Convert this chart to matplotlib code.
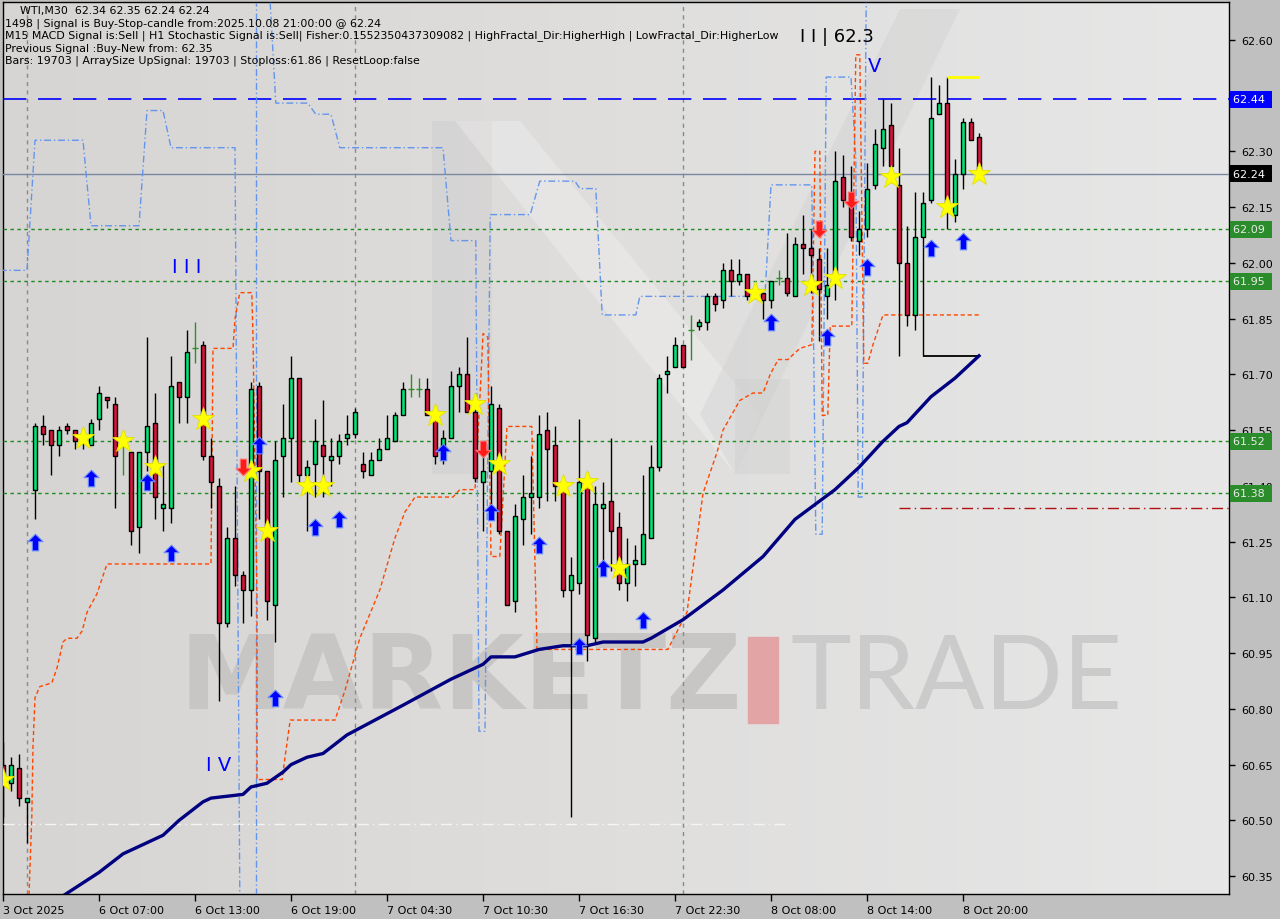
import numpy as np
import matplotlib
matplotlib.use("Agg")
import matplotlib.pyplot as plt
import matplotlib.transforms as mtransforms
from matplotlib.path import Path
from matplotlib.patches import Rectangle, Polygon
from matplotlib.colors import LinearSegmentedColormap

# ---------------- data (WTI, M30) ----------------
opens = [60.65, 60.60, 60.64, 60.55, 61.39, 61.56, 61.55, 61.51, 61.56, 61.55,
         61.52, 61.51, 61.58, 61.64, 61.62, 61.52, 61.49, 61.29, 61.49, 61.57,
         61.34, 61.34, 61.68, 61.64, 61.77, 61.78, 61.48, 61.40, 61.03, 61.26,
         61.16, 61.12, 61.67, 61.44, 61.08, 61.48, 61.53, 61.69, 61.43, 61.46,
         61.51, 61.47, 61.48, 61.53, 61.54, 61.46, 61.43, 61.47, 61.50, 61.52,
         61.59, 61.66, 61.66, 61.66, 61.59, 61.49, 61.53, 61.67, 61.70, 61.60,
         61.41, 61.44, 61.61, 61.28, 61.09, 61.31, 61.37, 61.37, 61.55, 61.51,
         61.40, 61.12, 61.14, 61.41, 60.99, 61.34, 61.36, 61.29, 61.14, 61.19,
         61.19, 61.26, 61.45, 61.70, 61.72, 61.78, 61.82, 61.83, 61.84, 61.91,
         61.90, 61.98, 61.95, 61.97, 61.93, 61.92, 61.90, 61.96, 61.96, 61.91,
         62.05, 62.04, 62.01, 61.91, 61.97, 62.23, 62.18, 62.06, 62.09, 62.21,
         62.31, 62.37, 62.21, 62.00, 61.86, 62.07, 62.17, 62.40, 62.43, 62.13,
         62.24, 62.38, 62.34]
highs = [60.71, 60.67, 60.68, 60.56, 61.57, 61.59, 61.55, 61.56, 61.57, 61.55,
         61.55, 61.58, 61.67, 61.64, 61.64, 61.54, 61.49, 61.49, 61.80, 61.65,
         61.46, 61.75, 61.68, 61.82, 61.84, 61.79, 61.53, 61.42, 61.29, 61.40,
         61.17, 61.68, 61.68, 61.44, 61.52, 61.62, 61.75, 61.69, 61.47, 61.58,
         61.63, 61.53, 61.54, 61.59, 61.61, 61.49, 61.49, 61.53, 61.59, 61.60,
         61.68, 61.70, 61.69, 61.69, 61.61, 61.55, 61.71, 61.72, 61.80, 61.63,
         61.50, 61.67, 61.62, 61.28, 61.35, 61.43, 61.48, 61.59, 61.60, 61.56,
         61.40, 61.21, 61.58, 61.41, 61.40, 61.41, 61.53, 61.33, 61.26, 61.24,
         61.43, 61.51, 61.70, 61.75, 61.80, 61.78, 61.86, 61.85, 61.92, 61.92,
         62.00, 62.01, 62.01, 61.97, 61.94, 61.92, 61.95, 61.98, 62.08, 62.07,
         62.13, 62.09, 62.04, 62.04, 62.30, 62.29, 62.26, 62.14, 62.27, 62.36,
         62.44, 62.43, 62.31, 62.10, 62.19, 62.19, 62.50, 62.48, 62.50, 62.28,
         62.39, 62.39, 62.35]
lows = [60.51, 60.58, 60.54, 60.44, 61.31, 61.51, 61.43, 61.48, 61.54, 61.50,
        61.50, 61.51, 61.55, 61.61, 61.34, 61.43, 61.24, 61.22, 61.44, 61.31,
        61.28, 61.30, 61.57, 61.57, 61.73, 61.47, 61.34, 60.82, 61.02, 61.13,
        61.03, 61.05, 61.31, 61.04, 60.98, 61.37, 61.41, 61.41, 61.28, 61.37,
        61.37, 61.40, 61.46, 61.51, 61.53, 61.42, 61.43, 61.47, 61.50, 61.52,
        61.59, 61.64, 61.64, 61.59, 61.46, 61.46, 61.53, 61.60, 61.60, 61.41,
        61.28, 61.35, 61.27, 61.08, 61.06, 61.24, 61.27, 61.34, 61.36, 61.36,
        61.10, 60.51, 61.11, 60.93, 60.98, 61.16, 61.17, 61.12, 61.09, 61.13,
        61.19, 61.26, 61.44, 61.65, 61.72, 61.72, 61.74, 61.82, 61.82, 61.87,
        61.88, 61.91, 61.94, 61.90, 61.91, 61.85, 61.88, 61.94, 61.91, 61.91,
        61.97, 61.92, 61.79, 61.85, 61.90, 62.15, 62.06, 62.02, 62.07, 62.20,
        62.26, 62.26, 61.75, 61.83, 61.82, 61.75, 62.16, 62.40, 62.09, 62.11,
        62.20, 62.33, 62.24]
closes = [60.61, 60.65, 60.56, 60.56, 61.56, 61.54, 61.51, 61.55, 61.55, 61.52,
          61.53, 61.57, 61.65, 61.63, 61.48, 61.52, 61.28, 61.49, 61.56, 61.37,
          61.35, 61.67, 61.64, 61.76, 61.77, 61.48, 61.41, 61.03, 61.26, 61.16,
          61.12, 61.66, 61.44, 61.09, 61.47, 61.53, 61.69, 61.43, 61.45, 61.52,
          61.48, 61.48, 61.52, 61.54, 61.60, 61.44, 61.47, 61.50, 61.53, 61.59,
          61.66, 61.66, 61.66, 61.59, 61.48, 61.53, 61.67, 61.70, 61.60, 61.42,
          61.44, 61.62, 61.28, 61.08, 61.32, 61.37, 61.38, 61.54, 61.50, 61.40,
          61.12, 61.16, 61.41, 61.00, 61.35, 61.35, 61.28, 61.14, 61.19, 61.20,
          61.27, 61.45, 61.69, 61.71, 61.78, 61.72, 61.82, 61.84, 61.91, 61.89,
          61.98, 61.95, 61.97, 61.91, 61.93, 61.90, 61.95, 61.96, 61.92, 62.05,
          62.04, 62.02, 61.93, 61.94, 62.22, 62.17, 62.07, 62.09, 62.20, 62.32,
          62.36, 62.26, 62.00, 61.86, 62.07, 62.16, 62.39, 62.43, 62.16, 62.24,
          62.38, 62.33, 62.24]

tick_bars = [0, 12, 24, 36, 48, 60, 72, 84, 96, 108, 120]
tick_labels = ["3 Oct 2025", "6 Oct 07:00", "6 Oct 13:00", "6 Oct 19:00", "7 Oct 04:30",
               "7 Oct 10:30", "7 Oct 16:30", "7 Oct 22:30", "8 Oct 08:00", "8 Oct 14:00",
               "8 Oct 20:00"]
price_ticks = [60.35, 60.50, 60.65, 60.80, 60.95, 61.10, 61.25, 61.40, 61.55, 61.70,
               61.85, 62.00, 62.15, 62.30, 62.45, 62.60]
day_sep_bars = [3, 44, 85]

# moving average (navy)
ma_bars = [7, 12, 15, 16, 20, 22, 25, 26, 30, 31, 33, 35, 36, 38, 40, 43, 50, 56, 60, 61,
           64, 67, 70, 73, 75, 80, 81, 85, 90, 95, 99, 104, 107, 110, 112, 113, 116, 119, 122]
ma_vals = [60.29, 60.36, 60.41, 60.42, 60.46, 60.50, 60.55, 60.56, 60.57, 60.59,
           60.60, 60.63, 60.65, 60.67, 60.68, 60.73, 60.81, 60.88, 60.92, 60.94,
           60.94, 60.96, 60.97, 60.97, 60.98, 60.98, 60.99, 61.04, 61.12, 61.21,
           61.31, 61.39, 61.45, 61.52, 61.56, 61.57, 61.64, 61.69, 61.75]

# orange trailing stop
stop_bars = [3.25, 3.6, 3.75, 4, 4.6, 6.1, 6.75, 7.5, 8, 9.25, 9.9, 10.5, 11.75, 13, 26,
             26.25, 28.75, 29, 29.6, 31.1, 31.25, 31.75, 31.75, 34.9, 35.25, 35.9, 41.5,
             42.75, 44.6, 47.1, 49, 50.25, 51.5, 56.25, 57.1, 59, 59.6, 60, 60.6, 61, 62.1,
             63, 66.1, 66.75, 83.1, 85.5, 87.5, 89.25, 90, 92.1, 93.75, 95, 95.9, 96.9, 98.1,
             99.6, 101.1, 101.5, 102.1, 102.4, 103.1, 103.4, 106.1, 106.6, 107.1, 107.6,
             108.1, 108.75, 110, 122.1]
stop_vals = [60.30, 60.51, 60.70, 60.83, 60.86, 60.87, 60.91, 60.98, 60.99, 60.99, 61.01,
             61.06, 61.11, 61.19, 61.19, 61.77, 61.77, 61.85, 61.92, 61.92, 61.80, 61.10,
             60.61, 60.61, 60.67, 60.77, 60.77, 60.85, 60.99, 61.12, 61.26, 61.33, 61.37,
             61.37, 61.39, 61.39, 61.63, 61.81, 61.80, 61.21, 61.21, 61.56, 61.56, 60.96,
             60.96, 61.06, 61.38, 61.49, 61.55, 61.63, 61.65, 61.65, 61.70, 61.74, 61.74,
             61.77, 61.78, 62.30, 62.30, 61.59, 61.59, 61.83, 61.83, 62.56, 62.56, 61.73,
             61.73, 61.78, 61.86, 61.86]

# cornflower channel lines
chan_a_bars = [-0.4, 3, 4, 10, 11, 17, 18, 20, 21, 29, 29.6]
chan_a_vals = [61.98, 61.98, 62.33, 62.33, 62.10, 62.10, 62.41, 62.41, 62.31, 62.31, 60.30]
chan_b_bars = [31.6, 31.6]
chan_b_vals = [60.30, 62.70]
chan_c_bars = [33.4, 34.1, 38.1, 39.1, 41, 42.1, 55, 56, 59.1, 59.5, 60.25, 60.9, 65.9,
               67.1, 71.5, 72.1, 74.1, 74.9, 79.1, 79.6, 95.25, 96, 101.1, 101.6, 102.4,
               102.9, 106, 106.6, 106.9, 107.4, 107.9]
chan_c_vals = [62.70, 62.43, 62.43, 62.40, 62.40, 62.31, 62.31, 62.06, 62.06, 60.74,
               60.74, 62.13, 62.13, 62.22, 62.22, 62.20, 62.20, 61.86, 61.86, 61.91,
               61.91, 62.21, 62.21, 61.27, 61.27, 62.50, 62.50, 62.28, 61.37, 61.37, 62.70]

# signals
star_bars = [0, 10, 15, 19, 25, 31, 33, 38, 40, 54, 59, 62, 70, 73, 77, 94, 101, 104, 111, 118, 122]
star_vals = [60.61, 61.53, 61.52, 61.45, 61.58, 61.44, 61.28, 61.40, 61.40, 61.59, 61.62,
             61.46, 61.40, 61.41, 61.18, 61.92, 61.94, 61.96, 62.23, 62.15, 62.24]
buy_bars = [4, 11, 18, 21, 32, 34, 39, 42, 55, 61, 67, 72, 75, 80, 96, 103, 108, 116, 120]
buy_vals = [61.25, 61.42, 61.41, 61.22, 61.51, 60.83, 61.29, 61.31, 61.49, 61.33, 61.24,
            60.97, 61.18, 61.04, 61.84, 61.80, 61.99, 62.04, 62.06]
sell_bars = [30, 60, 102, 106]
sell_vals = [61.45, 61.50, 62.09, 62.17]

# horizontal levels
resist_level = 62.44
last_price = 62.24
green_levels = [62.09, 61.95, 61.52, 61.38]
stop_level = 61.34
old_level = 60.49
fractal_level = 62.50
base_level = 61.75

header = ["WTI,M30  62.34 62.35 62.24 62.24",
          "1498 | Signal is Buy-Stop-candle from:2025.10.08 21:00:00 @ 62.24",
          "M15 MACD Signal is:Sell | H1 Stochastic Signal is:Sell| Fisher:0.1552350437309082 | HighFractal_Dir:HigherHigh | LowFractal_Dir:HigherLow",
          "Previous Signal :Buy-New from: 62.35",
          "Bars: 19703 | ArraySize UpSignal: 19703 | Stoploss:61.86 | ResetLoop:false"]

# ---------------- figure ----------------
W, H = 1280, 920
fig = plt.figure(figsize=(W / 100, H / 100), dpi=100, facecolor="#c0c0c0")
ax = fig.add_axes([3 / W, 25 / H, 1226 / W, 892 / H])
ax.set_facecolor("#dcdad8")

bg = LinearSegmentedColormap.from_list("bg", ["#d7d5d3", "#e7e7e7"])
ax.imshow(np.linspace(0, 1, 256).reshape(1, -1), cmap=bg, extent=[0, 1, 0, 1],
          transform=ax.transAxes, aspect="auto", zorder=0)


def px(xp, yp):
    # pixel position of the plot area -> axes fraction (for the logo only)
    return ((xp - 3) / 1226, (895 - yp) / 892)


# faint "M" logo behind the chart
logo = [
    ([(432, 122), (492, 122), (492, 475), (432, 475)], "#c9c9c9", 0.35),
    ([(455, 122), (520, 122), (760, 415), (735, 475)], "#ffffff", 0.25),
    ([(735, 475), (700, 415), (900, 10), (960, 10)], "#c9c9c9", 0.30),
    ([(735, 380), (790, 380), (790, 475), (735, 475)], "#c9c9c9", 0.30),
]
for pts, col, a in logo:
    ax.add_patch(Polygon([px(*p) for p in pts], closed=True, transform=ax.transAxes,
                         fc=col, ec="none", alpha=a, zorder=1))

# watermark
ax.text(0.144, 0.241, "MARKETZ", transform=ax.transAxes, fontsize=75, fontweight="heavy",
        color="#c8c6c4", ha="left", va="center", zorder=1)
ax.add_patch(Rectangle((0.6077, 0.192), 0.0245, 0.096, transform=ax.transAxes,
                       color="#e2a4a4", zorder=1))
ax.text(0.642, 0.241, "TRADE", transform=ax.transAxes, fontsize=74, family="Lato",
        color="#cbcbcb", ha="left", va="center", zorder=1)

x = np.arange(len(opens))
o = np.array(opens); h = np.array(highs); l = np.array(lows); c = np.array(closes)
up = c > o
dn = c < o
dj = c == o

# grid separators
for b in day_sep_bars:
    ax.axvline(b, color="#8a8a8a", lw=1, ls=(0, (3, 3)), zorder=2)

# levels
ax.axhline(resist_level, color="#0000ff", lw=1.2, ls=(0, (14, 7)), zorder=3)
ax.axhline(last_price, color="#7888a0", lw=1, zorder=3)
for lv in green_levels:
    ax.axhline(lv, color="#1f8a1f", lw=1, ls=(0, (2.5, 2.5)), zorder=3)
ax.hlines(stop_level, 112, 153.25, color="#b01010", lw=1, ls=(0, (8, 3, 1, 3)), zorder=3)
ax.hlines(old_level, 0, 98.4, color="#f5f5f5", lw=1, ls=(0, (8, 3, 1, 3)), zorder=3)
ax.hlines(fractal_level, 118, 122, color="#ffff00", lw=2, zorder=7)
ax.hlines(base_level, 115, 122, color="black", lw=1.3, zorder=4)

# indicator lines
for bb, vv in [(chan_a_bars, chan_a_vals), (chan_b_bars, chan_b_vals), (chan_c_bars, chan_c_vals)]:
    ax.plot(bb, vv, color="#6495ed", lw=1, ls=(0, (5, 2, 1, 2)), zorder=3)
ax.plot(stop_bars, stop_vals, color="#ff4500", lw=1, ls=(0, (3, 2)), zorder=3)
ax.plot(ma_bars, ma_vals, color="#000080", lw=2.4, zorder=4)

# candles
ax.vlines(x[~dj], l[~dj], h[~dj], color="black", lw=1, zorder=5)
ax.bar(x[up], (c - o)[up], bottom=o[up], width=0.62, color="#00e676",
       edgecolor="black", linewidth=1, zorder=6)
ax.bar(x[dn], (o - c)[dn], bottom=c[dn], width=0.62, color="#dc143c",
       edgecolor="black", linewidth=1, zorder=6)
ax.vlines(x[dj], l[dj], h[dj], color="#2e8b2e", lw=1, zorder=6)
ax.hlines(o[dj], x[dj] - 0.4, x[dj] + 0.4, color="#2e8b2e", lw=1, zorder=6)

# signals
up_arrow = Path([(0, 1), (0.9, 0.1), (0.38, 0.1), (0.38, -1), (-0.38, -1), (-0.38, 0.1),
                 (-0.9, 0.1), (0, 1)],
                [Path.MOVETO] + [Path.LINETO] * 6 + [Path.CLOSEPOLY])
dn_arrow = Path([(px_, -py_) for px_, py_ in up_arrow.vertices], up_arrow.codes)
ax.plot(star_bars, star_vals, ls="none", marker="*", ms=17, mfc="#ffff00",
        mec="#e0e000", mew=0.6, zorder=8)
ax.plot(buy_bars, buy_vals, ls="none", marker=up_arrow, ms=12, mfc="#0000ff",
        mec="#6a8cff", mew=0.8, zorder=8)
ax.plot(sell_bars, sell_vals, ls="none", marker=dn_arrow, ms=12, mfc="#ff1a1a",
        mec="#ff7070", mew=0.8, zorder=8)

# wave labels
ax.text(23, 61.99, "I I I", color="#0000ff", fontsize=14, ha="center", va="center", zorder=8)
ax.text(27, 60.65, "I V", color="#0000ff", fontsize=14, ha="center", va="center", zorder=8)
ax.text(109, 62.53, "V", color="#0000ff", fontsize=14, ha="center", va="center", zorder=8)
ax.text(104.3, 62.61, "I I | 62.3", color="black", fontsize=13, ha="center", va="center", zorder=8)

# axes
ax.set_xlim(0, 153.25)
ax.set_ylim(60.302, 62.702)
ax.yaxis.tick_right()
ax.set_yticks(price_ticks)
ax.set_yticklabels([f"{v:.2f}" for v in price_ticks])
ax.set_xticks(tick_bars)
ax.set_xticklabels(tick_labels, ha="left")
ax.tick_params(axis="y", direction="out", length=4, width=1, pad=5, labelsize=8, colors="black")
ax.tick_params(axis="x", direction="out", length=5, width=1, pad=3, labelsize=8, colors="black")
for s in ax.spines.values():
    s.set_color("black")
    s.set_linewidth(1)

# price tags
tr = mtransforms.blended_transform_factory(ax.transAxes, ax.transData)
tags = [(resist_level, "#0000ff", "white"), (last_price, "black", "white")]
tags += [(lv, "#2a8c2a", "#eaeaea") for lv in green_levels]
for lv, fc, tc in tags:
    ax.text(1.0035, lv, f"{lv:.2f} ", transform=tr, fontsize=8, color=tc, ha="left",
            va="center", zorder=10, clip_on=False,
            bbox=dict(boxstyle="square,pad=0.3", fc=fc, ec="none"))

# header text
for i, line in enumerate(header):
    xp = 20 if i == 0 else 5
    fig.text(xp / W, 1 - (11 + 12.5 * i) / H, line, fontsize=7.9, color="black",
             ha="left", va="center")

fig.savefig("out.png", dpi=100, facecolor=fig.get_facecolor())
